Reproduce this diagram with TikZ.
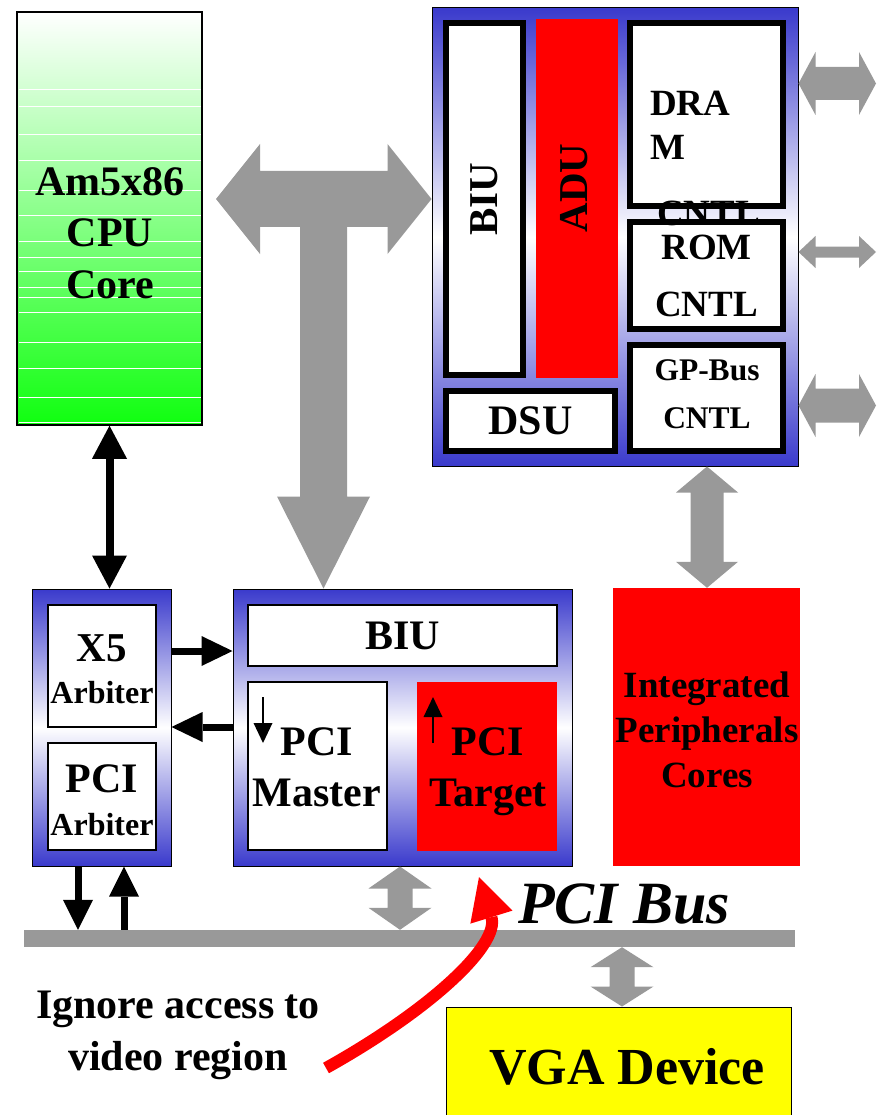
\documentclass[tikz,border=0pt]{standalone}
\usepackage{fontspec}
\setmainfont{Liberation Serif}
\usetikzlibrary{arrows.meta,calc}
\definecolor{bl}{RGB}{58,58,204}
\definecolor{gr}{RGB}{153,153,153}
\definecolor{grn}{RGB}{16,255,16}
\definecolor{rd}{RGB}{255,0,0}
\definecolor{yl}{RGB}{255,255,0}
\newcommand\fsz[2]{\fontsize{#1pt}{#2pt}\selectfont\bfseries}
% block arrow between two named points: [colour]{from}{to}{shaft half}{head half}{head length}
\newcommand\dblarrow[6][gr]{%
 \fill[#1] let \p1=(#2), \p2=(#3), \n1={atan2(\y2-\y1,\x2-\x1)} in
  (\p1) -- ($(\p1)+(\n1:#6)+(\n1+90:#5)$) -- ($(\p1)+(\n1:#6)+(\n1+90:#4)$)
  -- ($(\p2)+(\n1:-#6)+(\n1+90:#4)$) -- ($(\p2)+(\n1:-#6)+(\n1+90:#5)$) -- (\p2)
  -- ($(\p2)+(\n1:-#6)+(\n1-90:#5)$) -- ($(\p2)+(\n1:-#6)+(\n1-90:#4)$)
  -- ($(\p1)+(\n1:#6)+(\n1-90:#4)$) -- ($(\p1)+(\n1:#6)+(\n1-90:#5)$) -- cycle;}
\newcommand\sglarrow[6][gr]{%
 \fill[#1] let \p1=(#2), \p2=(#3), \n1={atan2(\y2-\y1,\x2-\x1)} in
  ($(\p1)+(\n1+90:#4)$)
  -- ($(\p2)+(\n1:-#6)+(\n1+90:#4)$) -- ($(\p2)+(\n1:-#6)+(\n1+90:#5)$) -- (\p2)
  -- ($(\p2)+(\n1:-#6)+(\n1-90:#5)$) -- ($(\p2)+(\n1:-#6)+(\n1-90:#4)$)
  -- ($(\p1)+(\n1-90:#4)$) -- cycle;}
\tikzset{
 txt/.style={inner sep=0pt, align=center},
 thickbox/.style={draw=black, line width=5.5pt, fill=white, inner sep=0pt},
 thinbox/.style={draw=black, line width=1.5pt, fill=white, inner sep=0pt},
 bluebox/.style={draw=black, line width=1pt, top color=bl, bottom color=bl, middle color=white, inner sep=0pt},
 redbox/.style={fill=rd, inner sep=0pt},
 bdbl/.style n args={3}{draw=black, line width=#1, {Triangle[width=#2,length=#3,line width=0pt]}-{Triangle[width=#2,length=#3,line width=0pt]}},
 bsgl/.style n args={3}{draw=black, line width=#1, -{Triangle[width=#2,length=#3,line width=0pt]}},
}
\begin{document}
\begin{tikzpicture}[x=1pt,y=-1pt]
\useasboundingbox[fill=white] (0,0) rectangle (883,1115);

% CPU core
\node[draw=black, line width=1.5pt, top color=white, bottom color=grn, minimum width=185pt, minimum height=413pt, inner sep=0pt] (CPU) at (109.5,218.5) {};
\foreach \yy in {89,106,134,160,190,215,241,257,271,287,297,312,342,368,397,422}
  \draw[white, line width=0.8pt] (18.5,\yy) -- (200.5,\yy);
\node[txt, font=\fsz{42}{51.5}] (cputxt) at (110,233) {Am5x86\\CPU\\Core};

% top-right block
\node[bluebox, minimum width=366pt, minimum height=458pt] (TR) at (615,237) {};
\node[thickbox, rotate=90, minimum width=352pt, minimum height=77pt, font=\fsz{41}{41}] (BIU1) at (484.5,199) {BIU};
\node[redbox, minimum width=82pt, minimum height=359pt] (ADU) at (577,198.5) {};
\node[txt, rotate=90, font=\fsz{41}{41}] (adutxt) at (574,188) {ADU};
\node[thickbox, minimum width=153pt, minimum height=183pt] (DRAM) at (706.5,114.5) {};
\node[thickbox, minimum width=153pt, minimum height=107pt, align=center, font=\fsz{37}{57}] (ROM) at (706.5,275.5) {ROM\\CNTL};
\node[thickbox, minimum width=153pt, minimum height=106pt] (GP) at (706.5,398) {};
\node[txt, font=\fsz{31.5}{48}] (gptxt) at (707,394) {GP-Bus\\CNTL};
\node[thickbox, minimum width=169pt, minimum height=60pt, font=\fsz{42}{42}] (DSU) at (530.5,421) {DSU};
\node[txt, align=left, anchor=north west, font=\fsz{37}{44}] (dramtxt) at (650,90.5) {DRA\\M\\[22pt]\hspace*{7pt}CNTL};

% right-side arrows
\coordinate (r1) at (876,83.5);
\coordinate (r2) at (876,252);
\coordinate (r3) at (876,405.5);
\dblarrow{TR.east |- r1}{r1}{16.5pt}{31.5pt}{17pt}
\dblarrow{TR.east |- r2}{r2}{5.5pt}{16pt}{17pt}
\dblarrow{TR.east |- r3}{r3}{17pt}{31.5pt}{17pt}

% bottom-left blocks
\node[bluebox, minimum width=139pt, minimum height=277pt] (X5o) at (101.5,727.5) {};
\node[thinbox, minimum width=108pt, minimum height=122pt] (X5) at (102,666) {};
\node[txt, anchor=base, font=\fsz{41}{41}] at (102,661.5) {X5};
\node[txt, anchor=base, font=\fsz{32}{32}] at (102,703.5) {Arbiter};
\node[thinbox, minimum width=108pt, minimum height=107pt] (PCIA) at (102,796.5) {};
\node[txt, anchor=base, font=\fsz{42}{42}] at (102,792) {PCI};
\node[txt, anchor=base, font=\fsz{32}{32}] at (102,835.5) {Arbiter};

\node[bluebox, minimum width=339pt, minimum height=277pt] (BIUo) at (402.5,727.5) {};
\node[thinbox, minimum width=309pt, minimum height=61pt, font=\fsz{42}{42}] (BIU2) at (402.5,635.5) {BIU};
\node[thinbox, minimum width=139pt, minimum height=168pt] (PCIM) at (317.5,766) {};
\node[txt, font=\fsz{42}{51}] at (317,767.5) {PCI\\Master};
\node[redbox, minimum width=140pt, minimum height=169pt] (PCIT) at (487,766.5) {};
\node[txt, font=\fsz{42}{51}] at (488,772) {PCI\\Target};
\coordinate (ma1) at (263,697);
\coordinate (ma2) at (263,743);
\coordinate (ta1) at (433,743);
\coordinate (ta2) at (433,697);
\draw[bsgl={2pt}{19pt}{20pt}] (ma1) -- (ma2);
\draw[bsgl={2pt}{19pt}{20pt}] (ta1) -- (ta2);

% integrated peripherals
\node[redbox, minimum width=187pt, minimum height=278pt] (IPC) at (706.5,727) {};
\node[txt, font=\fsz{37}{45}] at (707,730) {Integrated\\Peripherals\\Cores};

% bus
\node[fill=gr, minimum width=771pt, minimum height=17pt, inner sep=0pt] (bus) at (409.5,938.5) {};

% VGA
\node[draw=black, line width=1pt, fill=yl, minimum width=345pt, minimum height=130pt, inner sep=0pt] (VGA) at (618.5,1072) {};
\node[txt, font=\fsz{52}{52}] at (627,1067) {VGA Device};

% T arrow
\coordinate (Tl) at (216,199);
\coordinate (Tv) at (323.5,199);
\dblarrow{Tl}{TR.west |- Tl}{28pt}{55pt}{44pt}
\sglarrow{Tv}{Tv |- BIUo.north}{23.5pt}{46.5pt}{92pt}

% black arrows
\draw[bdbl={8pt}{35pt}{33pt}] (CPU.south) -- (CPU.south |- X5o.north);
\coordinate (yA) at (0,651);
\coordinate (yB) at (0,727);
\draw[bsgl={7pt}{30pt}{31pt}] (X5o.east |- yA) -- (BIUo.west |- yA);
\draw[bsgl={7pt}{30pt}{31pt}] (BIUo.west |- yB) -- (X5o.east |- yB);
\coordinate (d1) at (78,0);
\coordinate (u1) at (124,0);
\draw[bsgl={7pt}{30pt}{30pt}] (X5o.south -| d1) -- (bus.north -| d1);
\draw[bsgl={7pt}{30pt}{30pt}] (bus.north -| u1) -- (X5o.south -| u1);

% gray arrows
\coordinate (g1) at (400,0);
\coordinate (g2) at (622,0);
\coordinate (g3) at (707,0);
\dblarrow{TR.south -| g3}{IPC.north -| g3}{16.5pt}{31pt}{26pt}
\dblarrow{BIUo.south -| g1}{bus.north -| g1}{12.5pt}{31.5pt}{22pt}
\dblarrow{bus.south -| g2}{VGA.north -| g2}{12.5pt}{31.5pt}{20pt}

% labels
\node[txt, font=\fontsize{60pt}{60pt}\selectfont\bfseries\itshape] (pcibus) at (624,903.5) {PCI Bus};
\node[txt, font=\fsz{42}{52}] (ign) at (178,1035.5) {Ignore access to\\video region};

% red curved arrow
\coordinate (rs) at (326,1068);
\coordinate (rt) at (479,877);
\draw[draw=rd, line width=12pt, -{Triangle[width=44pt,length=42pt,line width=0pt]}] (rs) .. controls (430,1010) and (500,945) .. (rt);
\end{tikzpicture}
\end{document}
